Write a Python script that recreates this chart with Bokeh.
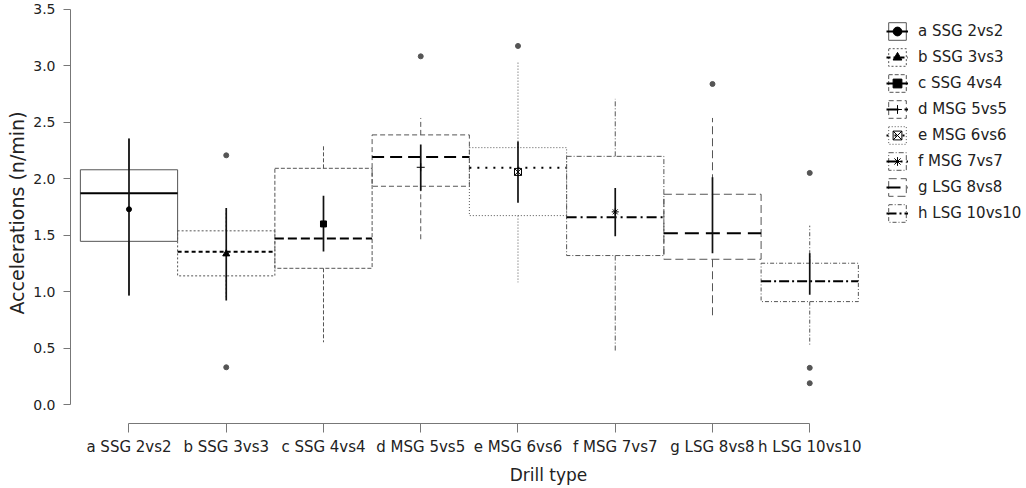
from bokeh.plotting import figure
from bokeh.models import Range1d, FixedTicker, Legend, LegendItem, PrintfTickFormatter
from bokeh.embed import file_html
from bokeh.resources import INLINE

categories = ["a SSG 2vs2", "b SSG 3vs3", "c SSG 4vs4", "d MSG 5vs5",
              "e MSG 6vs6", "f MSG 7vs7", "g LSG 8vs8", "h LSG 10vs10"]
positions = [1, 2, 3, 4, 5, 6, 7, 8]
q1 = [1.446, 1.140, 1.207, 1.934, 1.674, 1.320, 1.287, 0.912]
median = [1.872, 1.353, 1.470, 2.194, 2.097, 1.659, 1.517, 1.092]
q3 = [2.080, 1.539, 2.093, 2.389, 2.276, 2.199, 1.863, 1.252]
whisker_low = [0.965, 0.950, 0.552, 1.461, 1.083, 0.469, 0.773, 0.516]
whisker_high = [2.356, 1.720, 2.288, 2.539, 3.047, 2.708, 2.539, 1.585]
mean = [1.730, 1.335, 1.600, 2.102, 2.061, 1.707, None, None]
ci_low = [0.965, 0.921, 1.355, 1.895, 1.787, 1.491, 1.340, 0.972]
ci_high = [2.356, 1.742, 1.849, 2.303, 2.330, 1.919, 2.013, 1.340]
outlier_group = [2, 2, 4, 5, 7, 8, 8, 8]
outlier_value = [2.208, 0.330, 3.085, 3.177, 2.840, 2.052, 0.325, 0.189]

box_dash = ["solid", "2 2", "4 2", "5 3", "1 2", "5 2 1 2", "8 4", "4 2 1 2"]
median_dash = ["solid", "4 3", "9 4", "12 6", "2 6", "10 4 2 4", "14 7", "10 3 2 3"]
mean_marker = ["circle", "triangle", "square", "cross", "square_x", "asterisk", None, None]
mean_size = [5, 7, 6, 8, 7, 7, 0, 0]

FONT = "DejaVu Sans"
GRAY = "#555555"

p = figure(width=1026, height=488,
           x_range=Range1d(0.3985, 10.229), y_range=Range1d(-0.168, 3.562),
           output_backend="svg", toolbar_location=None,
           min_border_left=70, min_border_right=0, min_border_top=2, min_border_bottom=65)
p.outline_line_color = None
p.xgrid.visible = False
p.ygrid.visible = False

items = []
for i, xc in enumerate(positions):
    box = p.quad(left=[xc - 0.5], right=[xc + 0.5], bottom=[q1[i]], top=[q3[i]],
                 fill_color=None, line_color=GRAY, line_width=1, line_dash=box_dash[i])
    p.segment(x0=[xc, xc], y0=[q3[i], q1[i]], x1=[xc, xc], y1=[whisker_high[i], whisker_low[i]],
              line_color=GRAY, line_width=1, line_dash=box_dash[i])
    med = p.segment(x0=[xc - 0.5], y0=[median[i]], x1=[xc + 0.5], y1=[median[i]],
                    line_color="black", line_width=2, line_dash=median_dash[i])
    p.segment(x0=[xc], y0=[ci_low[i]], x1=[xc], y1=[ci_high[i]],
              line_color="#111111", line_width=1.7)
    rends = [box, med]
    if mean[i] is not None:
        filled = mean_marker[i] in ("circle", "triangle", "square")
        mk = p.scatter(x=[xc], y=[mean[i]], marker=mean_marker[i], size=mean_size[i],
                       line_color="black", fill_color="black" if filled else None,
                       line_width=1)
        rends.append(mk)
    items.append(LegendItem(label=categories[i], renderers=rends))

p.scatter(x=outlier_group, y=outlier_value, marker="circle", size=5,
          fill_color=GRAY, line_color=GRAY)

# axes
xa = p.xaxis[0]
xa.ticker = FixedTicker(ticks=positions)
xa.major_label_overrides = {pos: lab for pos, lab in zip(positions, categories)}
xa.bounds = (1, 8)
xa.axis_label = "Drill type"
ya = p.yaxis[0]
ya.ticker = FixedTicker(ticks=[0, 0.5, 1.0, 1.5, 2.0, 2.5, 3.0, 3.5])
ya.formatter = PrintfTickFormatter(format="%.1f")
ya.bounds = (0, 3.5)
ya.axis_label = "Accelerations (n/min)"
for ax in (xa, ya):
    ax.axis_line_color = "#777777"
    ax.major_tick_line_color = "#777777"
    ax.minor_tick_line_color = None
    ax.major_tick_in = 0
    ax.major_label_text_font = FONT
    ax.major_label_text_color = "#222222"
    ax.axis_label_text_font = FONT
    ax.axis_label_text_font_style = "normal"
    ax.axis_label_text_color = "#222222"
xa.major_label_text_font_size = "15px"
xa.axis_label_text_font_size = "17px"
ya.major_label_text_font_size = "14px"
ya.axis_label_text_font_size = "19px"
xa.major_tick_out = 9
xa.major_label_standoff = 5
xa.axis_label_standoff = 6
ya.major_tick_out = 7
ya.major_label_standoff = 8
ya.axis_label_standoff = 2

legend = Legend(items=items, location=(816, 199), glyph_width=22, glyph_height=22,
                label_height=22, spacing=4, padding=0, margin=0, label_standoff=10,
                border_line_color=None, background_fill_alpha=0,
                label_text_font=FONT, label_text_font_size="15px", label_text_color="#222222")
p.add_layout(legend)

open("out.html", "w").write(file_html(p, INLINE))
